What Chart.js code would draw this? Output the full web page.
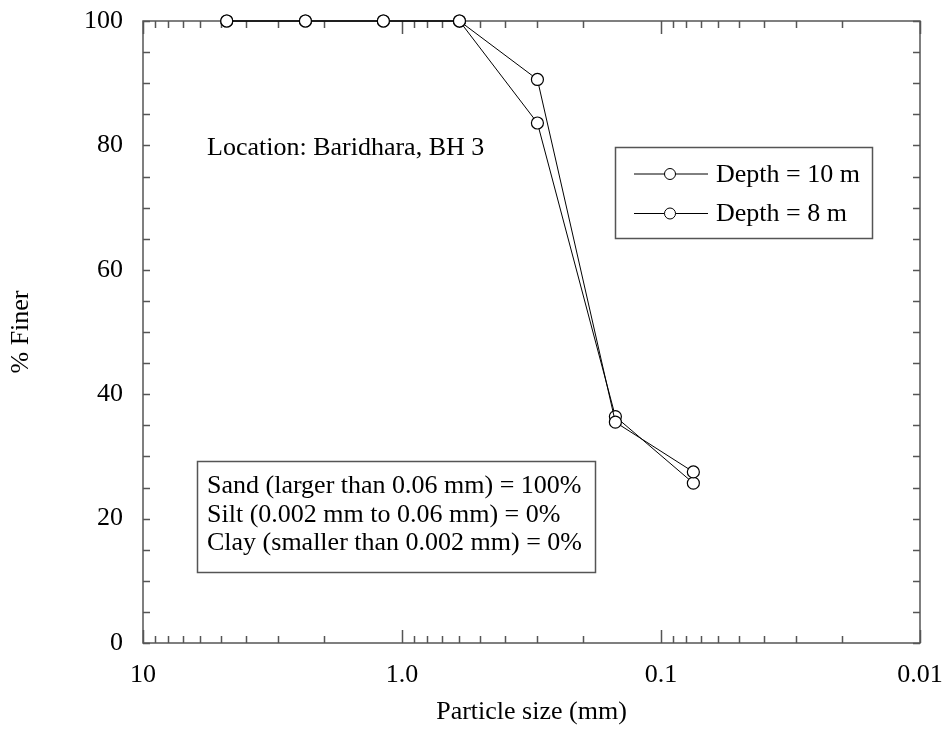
<!DOCTYPE html>
<html>
<head>
<meta charset="utf-8">
<script src="https://cdn.jsdelivr.net/npm/chart.js@4/dist/chart.umd.min.js"></script>
<style>
  html, body { margin: 0; padding: 0; background: #fff; }
  canvas { display: block; }
</style>
</head>
<body>
<canvas id="chart" width="947" height="753"></canvas>
<script>
"use strict";

// sieve openings (mm) and % finer for each sample
const sizes = [4.75, 2.36, 1.18, 0.6, 0.3, 0.15, 0.075];
const depth10 = [100, 100, 100, 100, 90.6, 35.5, 27.5];
const depth8 = [100, 100, 100, 100, 83.6, 36.4, 25.7];
const seriesNames = ['Depth = 10 m', 'Depth = 8 m'];

const xMajor = [10, 1, 0.1, 0.01];
const xLabels = ['10', '1.0', '0.1', '0.01'];
const yLabelEvery = 20;

const locationText = 'Location: Baridhara, BH 3';
const noteLines = [
    'Sand (larger than 0.06 mm) = 100%',
    'Silt (0.002 mm to 0.06 mm) = 0%',
    'Clay (smaller than 0.002 mm) = 0%'
];

const FONT = '"Liberation Serif", "Times New Roman", serif';
const font = {family: FONT, size: 26};

// 1..9 in every decade, for the log tick marks
const xTickValues = [];
[0.01, 0.1, 1].forEach(d => {
    for (let k = 1; k < 10; k++) xTickValues.push(+(k * d).toPrecision(3));
});
xTickValues.push(10);

function majorLabel(v) {
    const i = xMajor.findIndex(m => Math.abs(v - m) / m < 1e-6);
    return i < 0 ? '' : xLabels[i];
}

const series = (values, name) => ({
    label: name,
    data: sizes.map((s, i) => ({x: s, y: values[i]})),
    borderColor: '#000',
    borderWidth: 1,
    pointRadius: 6,
    pointBorderWidth: 1.2,
    pointBackgroundColor: '#fff',
    pointBorderColor: '#000',
    tension: 0,
    clip: false
});

// frame + inward tick marks on all four sides
const frame = {
    id: 'frame',
    beforeDatasetsDraw(chart) {
        const {ctx, chartArea: a, scales: {x, y}} = chart;
        ctx.save();
        ctx.strokeStyle = '#555';
        ctx.lineWidth = 1.5;
        ctx.beginPath();
        x.ticks.forEach(t => {
            const px = Math.round(x.getPixelForValue(t.value)) + 0.5,
                len = majorLabel(t.value) ? 13 : 7;
            ctx.moveTo(px, a.bottom);
            ctx.lineTo(px, a.bottom - len);
            ctx.moveTo(px, a.top);
            ctx.lineTo(px, a.top + len);
        });
        y.ticks.forEach(t => {
            const py = Math.round(y.getPixelForValue(t.value)) + 0.5;
            ctx.moveTo(a.left, py);
            ctx.lineTo(a.left + 7, py);
            ctx.moveTo(a.right, py);
            ctx.lineTo(a.right - 7, py);
        });
        ctx.stroke();
        ctx.strokeRect(a.left, a.top, a.right - a.left, a.bottom - a.top);
        ctx.restore();
    }
};

// legend box and the two text notes
const notes = {
    id: 'notes',
    afterDraw(chart) {
        const {ctx} = chart;
        ctx.save();
        ctx.font = '26px ' + FONT;
        ctx.fillStyle = '#000';
        ctx.textBaseline = 'alphabetic';
        ctx.textAlign = 'left';
        ctx.fillText(locationText, 207, 155);

        ctx.strokeStyle = '#555';
        ctx.lineWidth = 1.5;
        ctx.strokeRect(197.5, 461.5, 398, 111);
        noteLines.forEach((t, i) => ctx.fillText(t, 207, 493 + i * 28.5));

        ctx.strokeRect(615.5, 147.5, 257, 91);
        ctx.textBaseline = 'middle';
        chart.data.datasets.forEach((ds, i) => {
            const yy = 174 + i * 39.5;
            ctx.strokeStyle = ds.borderColor;
            ctx.lineWidth = 1;
            ctx.beginPath();
            ctx.moveTo(634, yy);
            ctx.lineTo(708, yy);
            ctx.stroke();
            ctx.beginPath();
            ctx.arc(670, yy, 5.5, 0, Math.PI * 2);
            ctx.fillStyle = '#fff';
            ctx.fill();
            ctx.stroke();
            ctx.fillStyle = '#000';
            ctx.fillText(ds.label, 716, yy + 1);
        });
        ctx.restore();
    }
};

new Chart(document.getElementById('chart'), {
    type: 'line',
    data: {
        datasets: [series(depth10, seriesNames[0]), series(depth8, seriesNames[1])]
    },
    options: {
        responsive: false,
        animation: false,
        layout: {padding: {left: 0, right: 27, top: 21, bottom: 0}},
        plugins: {legend: {display: false}, tooltip: {enabled: false}},
        scales: {
            x: {
                type: 'logarithmic',
                reverse: true,
                min: 0.01,
                max: 10,
                afterBuildTicks: s => { s.ticks = xTickValues.map(v => ({value: v})); },
                afterFit: s => { s.height = 110; },
                grid: {display: false, drawTicks: false},
                border: {display: false},
                ticks: {
                    autoSkip: false,
                    maxRotation: 0,
                    padding: 17,
                    color: '#000',
                    font: font,
                    callback: v => majorLabel(v)
                },
                title: {
                    display: true,
                    text: 'Particle size (mm)',
                    color: '#000',
                    font: font,
                    padding: {top: 0, bottom: 25}
                }
            },
            y: {
                min: 0,
                max: 100,
                afterFit: s => { s.width = 143; },
                // invisible tick length keeps the labels off the axis
                grid: {display: false, drawTicks: true, tickLength: 15},
                border: {display: false},
                ticks: {
                    stepSize: 5,
                    autoSkip: false,
                    padding: 5,
                    color: '#000',
                    font: font,
                    callback: v => (v % yLabelEvery === 0 ? v : '')
                },
                title: {
                    display: true,
                    text: '% Finer',
                    color: '#000',
                    font: font,
                    padding: {top: 6, bottom: 0}
                }
            }
        }
    },
    plugins: [frame, notes]
});
</script>
</body>
</html>
